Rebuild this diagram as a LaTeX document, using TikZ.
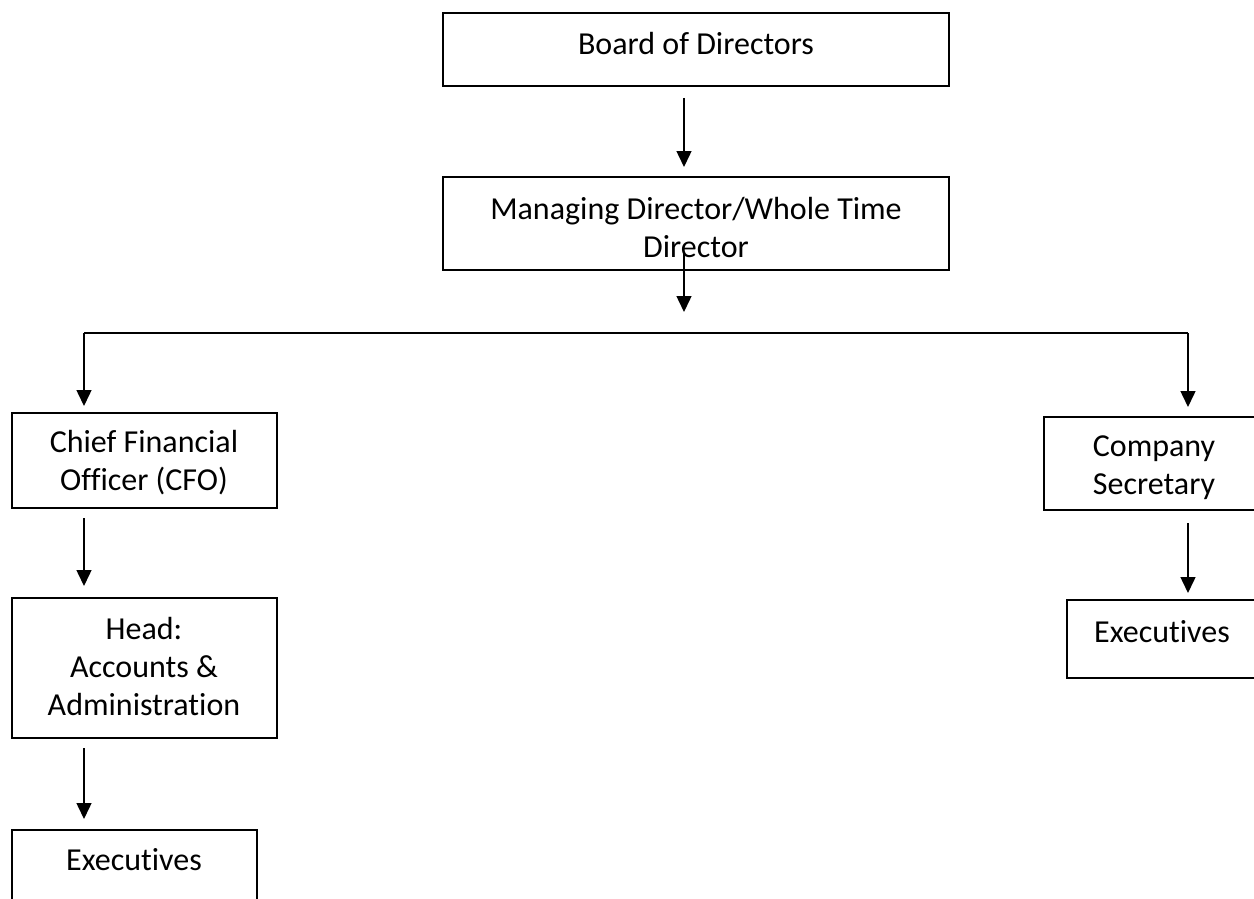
\documentclass[tikz,border=0pt]{standalone}
\usepackage{fontspec}
\setmainfont{Carlito}[Ligatures=NoCommon]
\usetikzlibrary{arrows.meta}
\begin{document}
\begin{tikzpicture}[x=1pt,y=-1pt,
  box/.style={draw, line width=2pt, inner sep=0pt},
  lbl/.style={font=\fontsize{32}{38}\selectfont, align=center, inner sep=0pt, anchor=base},
  arr/.style={line width=1.5pt, -{Triangle[length=16pt,width=15pt]}},
  conn/.style={line width=1.5pt}]
\useasboundingbox (0,0) rectangle (1254,899);
\clip (0,0) rectangle (1254,899);
% boxes
\node[box, minimum width=506pt, minimum height=73pt] (board) at (696,49.5) {};
\node[box, minimum width=506pt, minimum height=93pt] (md) at (696,223.5) {};
\node[box, minimum width=265pt, minimum height=95pt] (cfo) at (144.5,460.5) {};
\node[box, minimum width=265pt, minimum height=140pt] (head) at (144.5,668) {};
\node[box, minimum width=245pt, minimum height=140pt] (execl) at (134.5,900) {};
\node[box, minimum width=219pt, minimum height=93pt] (cs) at (1153.5,463.5) {};
\node[box, minimum width=195pt, minimum height=78pt] (execr) at (1164.5,639) {};
% labels (anchor at baseline of last line)
\node[lbl] (tboard) at (696,55) {Board of Directors};
\node[lbl] (tmd) at (696,257) {Managing Director/Whole Time\\Director};
\node[lbl] (tcfo) at (144,490) {Chief Financial\\Officer (CFO)};
\node[lbl] (thead) at (144,715) {Head:\\Accounts \&\\Administration};
\node[lbl] (texecl) at (134,870) {Executives};
\node[lbl] (tcs) at (1154,494) {Company\\Secretary};
\node[lbl] (texecr) at (1162,642) {Executives};
% connectors
\coordinate (mdend) at (684,312);
\coordinate (hl) at (84,333);
\coordinate (hr) at (1188,333);
\draw[arr] ([shift={(-12,11)}]board.south) -- ([shift={(-12,-9)}]md.north);
\draw[arr] ([shift={(-12,-18)}]md.south) -- (mdend);
\draw[conn] (hl) -- (hr);
\draw[arr, shorten >=6pt] (hl) -- (hl |- cfo.north);
\draw[arr, shorten >=9pt] (hr) -- (hr |- cs.north);
\draw[arr, shorten <=9pt, shorten >=11pt] (hl |- cfo.south) -- (hl |- head.north);
\draw[arr, shorten <=9pt, shorten >=10pt] (hl |- head.south) -- (hl |- execl.north);
\draw[arr, shorten <=12pt, shorten >=6pt] (hr |- cs.south) -- (hr |- execr.north);
\end{tikzpicture}
\end{document}
